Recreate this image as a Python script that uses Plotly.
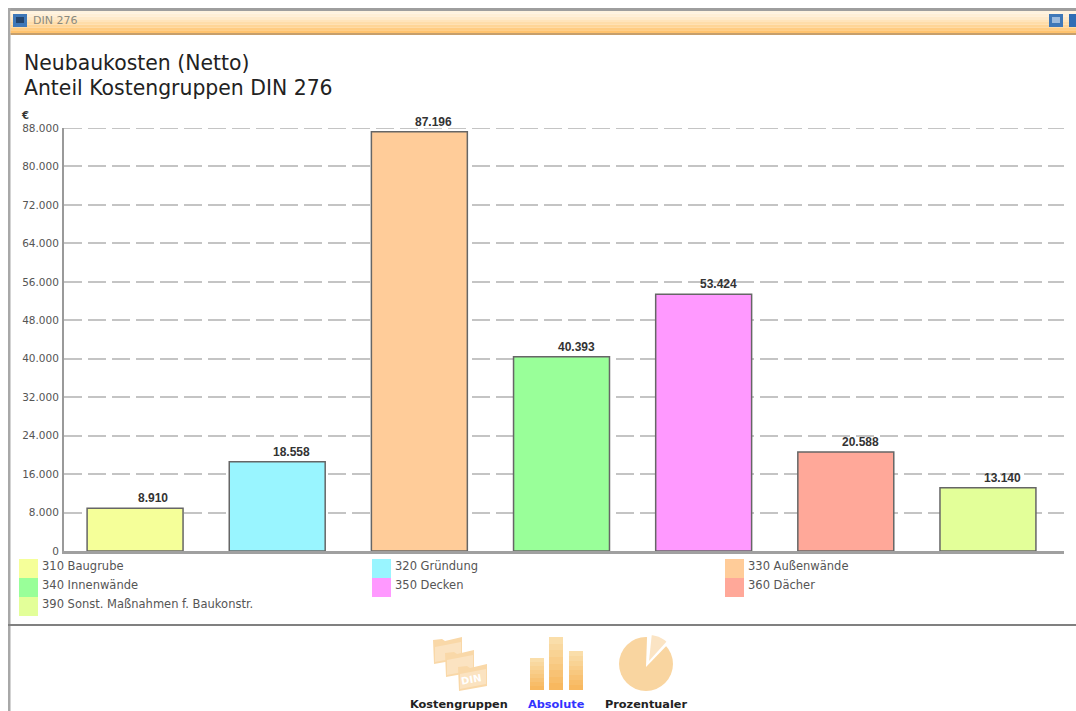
import math
import plotly.graph_objects as go

categories = ["310 Baugrube", "320 Gründung", "330 Außenwände", "340 Innenwände",
              "350 Decken", "360 Dächer", "390 Sonst. Maßnahmen f. Baukonstr."]
values = [8910, 18558, 87196, 40393, 53424, 20588, 13140]
colors = ["#F5FF99", "#99F5FF", "#FFCC99", "#99FF99", "#FF99FF", "#FFA899", "#E3FF99"]
tick_values = [0, 8000, 16000, 24000, 32000, 40000, 48000, 56000, 64000, 72000, 80000, 88000]
title_lines = ["Neubaukosten (Netto)", "Anteil Kostengruppen DIN 276"]
window_title = "DIN 276"
button_labels = ["Kostengruppen", "Absolute", "Prozentualer"]
button_colors = ["#222222", "#3333FF", "#222222"]

W, H = 1076, 711
L, R, T, B = 64, 1064, 128, 551
GRID_DASH = "18px,6px"
GRID_COLOR = "#C4C4C4"
px = lambda x: (x - L) / (R - L)
py = lambda y: (B - y) / (B - T)
shapes, notes = [], []


def rect(x0, y0, x1, y1, fill, line=None, lw=0, layer="below"):
    shapes.append(dict(type="rect", xref="paper", yref="paper", x0=px(x0), x1=px(x1),
                       y0=py(y1), y1=py(y0), fillcolor=fill, layer=layer,
                       line=dict(color=line or fill, width=lw)))


def path(points, fill):
    d = "M" + " L".join(f"{px(x):.5f},{py(y):.5f}" for x, y in points) + " Z"
    shapes.append(dict(type="path", xref="paper", yref="paper", path=d, fillcolor=fill,
                       line=dict(width=0), layer="below"))


def text(x, y, s, size=11, color="#555555", family="DejaVu Sans", anchor="left", bold=False, angle=0):
    notes.append(dict(xref="paper", yref="paper", x=px(x), y=py(y), text=f"<b>{s}</b>" if bold else s,
                      showarrow=False, xanchor=anchor, yanchor="middle", textangle=angle,
                      font=dict(size=size, color=color, family=family)))


def wedge(cx, cy, r, a0, a1, fill):
    n = 16
    pts = [(cx, cy)]
    for k in range(n + 1):
        a = math.radians(a0 + (a1 - a0) * k / n)
        pts.append((cx + r * math.cos(a), cy - r * math.sin(a)))
    path(pts, fill)


# window frame
rect(8, 8, W, 11, "#9E9E9E")
rect(8, 8, 10.5, H, "#A8A8A8")
title_grad = ["#FFF3DF", "#FFEFD6", "#FFEACA", "#FFE4BB", "#FFDDA9", "#FFD596", "#FFCC82", "#FFC36E"]
for i, c in enumerate(title_grad):
    rect(10.5, 11 + i * 2.75, W, 11 + (i + 1) * 2.75, c)
rect(10.5, 33, W, 35, "#C79F6B")
rect(8, 624, W, 626, "#808080")
rect(13, 14, 27, 27, "#3F78B8")
rect(16, 17, 24, 23, "#24456E")
rect(1049, 14, 1063, 27, "#3F78B8")
rect(1052, 17, 1060, 23, "#9DBBDD")
rect(1069, 14, 1076, 27, "#2F6DB5")
text(31, 20, window_title, size=11, color="#8A8A80")

# titles
text(22, 63, title_lines[0], size=20.4, color="#222222")
text(22, 88, title_lines[1], size=20.4, color="#222222")
text(19, 115, "€", size=10, color="#333333", bold=True)

# legend
swatch_x = [19, 372, 725]
for i, (name, col) in enumerate(zip(categories, colors)):
    r, c = divmod(i, 3)
    y0 = 559 + r * 19
    rect(swatch_x[c], y0, swatch_x[c] + 19, y0 + 19, col)
    text(swatch_x[c] + 21, y0 + 7, name, size=11.5)

# bottom icons
for (x0, top, x1) in [(530, 658, 544), (549, 637, 563), (569, 651, 583)]:
    n = 8
    for k in range(n):
        a = k / (n - 1)
        col = f"rgb({int(250 - a * 2)},{int(222 - a * 38)},{int(170 - a * 75)})"
        y_a = round(top + (690 - top) * k / n)
        y_b = round(top + (690 - top) * (k + 1) / n)
        rect(x0, y_a, x1, y_b, col)

pie_cx, pie_cy, pie_r = 646, 664, 27
shapes.append(dict(type="circle", xref="paper", yref="paper",
                   x0=px(pie_cx - pie_r), x1=px(pie_cx + pie_r),
                   y0=py(pie_cy + pie_r), y1=py(pie_cy - pie_r),
                   fillcolor="#F9D5A0", line=dict(width=0), layer="below"))
wedge(pie_cx, pie_cy + 3, pie_r + 6, 46, 88, "#FFFFFF")
wedge(pie_cx + 3, pie_cy - 3, pie_r - 1, 48, 84, "#FBE4C4")
for (fx, fy) in [(433, 637), (445, 650), (458, 664)]:
    path([(fx, fy + 3), (fx + 9, fy + 2), (fx + 12, fy + 4), (fx + 29, fy), (fx + 29, fy + 22),
          (fx + 1, fy + 27)], "#F9D8A8")
    path([(fx + 2, fy + 10), (fx + 28, fy + 5), (fx + 28, fy + 20), (fx + 2, fy + 25)], "#FBE3C1")
text(471, 679, "DIN", size=10, color="#FFFFFF", anchor="center", bold=True, angle=-10)
for cx, s, col in zip([459, 556, 645.5], button_labels, button_colors):
    text(cx, 704, s, size=11.3, color=col, anchor="center", bold=True)

# top gridline, which plotly drops at the axis end
shapes.append(dict(type="line", xref="paper", yref="y", x0=0, x1=1,
                   y0=tick_values[-1], y1=tick_values[-1], layer="below",
                   line=dict(color=GRID_COLOR, width=2, dash=GRID_DASH)))

# value labels end right of the bar centre in the reference
for cat, v in zip(categories, values):
    notes.append(dict(xref="x", yref="y", x=cat, y=v, text=f"<b>{v:,}</b>".replace(",", "."),
                      showarrow=False, xanchor="right", yanchor="bottom", xshift=35, yshift=1,
                      font=dict(size=12, color="#333333", family="Liberation Sans")))

fig = go.Figure(go.Bar(
    x=categories, y=values, marker=dict(color=colors, line=dict(color="#666666", width=1.5)),
    showlegend=False, width=0.675))

fig.update_layout(
    width=W, height=H, margin=dict(l=L, r=W - R, t=T, b=H - B, pad=0, autoexpand=False),
    paper_bgcolor="white", plot_bgcolor="white", shapes=shapes, annotations=notes,
    separators=",.", font=dict(family="DejaVu Sans"),
    xaxis=dict(range=[-0.5, 6.535], showticklabels=False, ticks="", showgrid=False, showline=True,
               linecolor="#A0A0A0", linewidth=3, zeroline=False, fixedrange=True),
    yaxis=dict(range=[0, 88000], tickvals=tick_values, tickformat=",d",
               tickfont=dict(size=10.5, color="#555555", family="DejaVu Sans"), ticklabelstandoff=1,
               showgrid=True, gridcolor=GRID_COLOR, gridwidth=2, griddash=GRID_DASH,
               showline=True, linecolor="#9A9A9A", linewidth=2, zeroline=False, ticks="", ticklen=0,
               fixedrange=True),
)
fig.write_html("out.html", config=dict(displayModeBar=False),
               post_script="document.body.style.margin='0';")
